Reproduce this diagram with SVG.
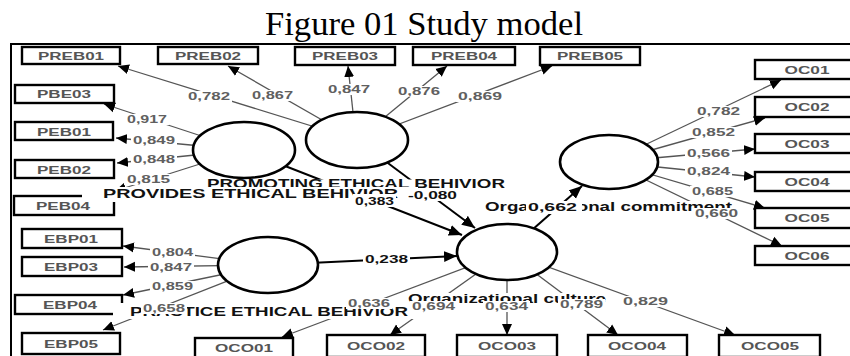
<svg xmlns="http://www.w3.org/2000/svg" width="850" height="356" viewBox="0 0 850 356">
<defs>
<marker id="ah" markerUnits="userSpaceOnUse" markerWidth="13" markerHeight="11" refX="11" refY="5.5" orient="auto"><path d="M0,0.5 L11,5.5 L0,10.5 z" fill="#000"/></marker>
<marker id="ahb" markerUnits="userSpaceOnUse" markerWidth="14" markerHeight="12" refX="13" refY="6" orient="auto"><path d="M0,0.5 L13,6 L0,11.5 z" fill="#000"/></marker>
</defs>
<style>
text{font-family:"Liberation Sans",Arial,sans-serif}
.title{font-family:"Liberation Serif","Times New Roman",serif;font-size:34px;fill:#000}
.box rect{fill:#fff;stroke:#000;stroke-width:2.4}
.box text{font-size:11px;font-weight:bold;fill:#555}
.box text{text-anchor:middle}
.lv ellipse{fill:#fff;stroke:#000;stroke-width:2.6}
.lv text{font-size:12px;font-weight:bold;fill:#111}
.bg{fill:#fff}
.ld{stroke:#555;stroke-width:1.3;fill:none;marker-end:url(#ah)}
.st{stroke:#000;stroke-width:2;fill:none;marker-end:url(#ahb)}
.n text{font-size:11px;font-weight:bold;fill:#606060}
.n.s text{fill:#111}
</style>
<rect width="850" height="356" fill="#fff"/>
<text class="title" x="265" y="35" textLength="318" lengthAdjust="spacingAndGlyphs">Figure 01 Study model</text>
<g id="frame" stroke="#000" stroke-width="2">
<line x1="10" y1="44" x2="850" y2="44"/>
<line x1="11" y1="43" x2="11" y2="356"/>
</g>
<g id="connectors">
<line class="ld" x1="357" y1="140" x2="118" y2="66"/>
<line class="ld" x1="357" y1="140" x2="228" y2="66"/>
<line class="ld" x1="356" y1="140" x2="348" y2="66"/>
<line class="ld" x1="357" y1="140" x2="447" y2="66"/>
<line class="ld" x1="357" y1="140" x2="552" y2="66"/>
<line class="ld" x1="244" y1="150" x2="104" y2="104"/>
<line class="ld" x1="244" y1="150" x2="116" y2="138"/>
<line class="ld" x1="244" y1="150" x2="117" y2="163"/>
<line class="ld" x1="244" y1="150" x2="115" y2="191"/>
<line class="ld" x1="268" y1="265" x2="123" y2="246"/>
<line class="ld" x1="268" y1="265" x2="124" y2="267"/>
<line class="ld" x1="268" y1="265" x2="123" y2="295"/>
<line class="ld" x1="268" y1="265" x2="103" y2="330"/>
<line class="ld" x1="507" y1="252" x2="282" y2="337"/>
<line class="ld" x1="507" y1="252" x2="390" y2="335"/>
<line class="ld" x1="507" y1="252" x2="507" y2="335"/>
<line class="ld" x1="507" y1="252" x2="618" y2="335"/>
<line class="ld" x1="507" y1="252" x2="735" y2="335"/>
<line class="ld" x1="609" y1="162" x2="781" y2="80"/>
<line class="ld" x1="609" y1="162" x2="765" y2="118"/>
<line class="ld" x1="609" y1="162" x2="755" y2="149"/>
<line class="ld" x1="609" y1="162" x2="755" y2="177"/>
<line class="ld" x1="609" y1="162" x2="765" y2="208"/>
<line class="ld" x1="609" y1="162" x2="782" y2="246"/>
<line class="st" x1="244" y1="150" x2="462" y2="235"/>
<line class="st" x1="357" y1="140" x2="475" y2="228"/>
<line class="st" x1="268" y1="265" x2="457" y2="256"/>
<line class="st" x1="507" y1="252" x2="582" y2="186"/>
</g>
<g id="PREB01" class="box"><rect x="22" y="47" width="98" height="17"/><text x="71" y="60" textLength="66" lengthAdjust="spacingAndGlyphs">PREB01</text></g>
<g id="PREB02" class="box"><rect x="158" y="47" width="100" height="17"/><text x="208" y="60" textLength="66" lengthAdjust="spacingAndGlyphs">PREB02</text></g>
<g id="PREB03" class="box"><rect x="295" y="47" width="100" height="18"/><text x="345" y="60" textLength="66" lengthAdjust="spacingAndGlyphs">PREB03</text></g>
<g id="PREB04" class="box"><rect x="413" y="47" width="102" height="18"/><text x="464" y="60" textLength="66" lengthAdjust="spacingAndGlyphs">PREB04</text></g>
<g id="PREB05" class="box"><rect x="540" y="47" width="100" height="18"/><text x="590" y="60" textLength="66" lengthAdjust="spacingAndGlyphs">PREB05</text></g>
<g id="PBE03" class="box"><rect x="15" y="85" width="99" height="18"/><text x="64" y="98" textLength="54" lengthAdjust="spacingAndGlyphs">PBE03</text></g>
<g id="PEB01" class="box"><rect x="15" y="122" width="98" height="18"/><text x="64" y="136" textLength="54" lengthAdjust="spacingAndGlyphs">PEB01</text></g>
<g id="PEB02" class="box"><rect x="15" y="160" width="99" height="18"/><text x="64" y="174" textLength="54" lengthAdjust="spacingAndGlyphs">PEB02</text></g>
<g id="PEB04" class="box"><rect x="14" y="196" width="100" height="19"/><text x="63" y="210" textLength="54" lengthAdjust="spacingAndGlyphs">PEB04</text></g>
<g id="EBP01" class="box"><rect x="22" y="229" width="100" height="19"/><text x="71" y="243" textLength="54" lengthAdjust="spacingAndGlyphs">EBP01</text></g>
<g id="EBP03" class="box"><rect x="22" y="257" width="100" height="19"/><text x="71" y="271" textLength="54" lengthAdjust="spacingAndGlyphs">EBP03</text></g>
<g id="EBP04" class="box"><rect x="15" y="295" width="107" height="19"/><text x="70" y="309" textLength="54" lengthAdjust="spacingAndGlyphs">EBP04</text></g>
<g id="EBP05" class="box"><rect x="22" y="333" width="98" height="21"/><text x="71" y="348" textLength="54" lengthAdjust="spacingAndGlyphs">EBP05</text></g>
<g id="OCO01" class="box"><rect x="195" y="338" width="98" height="21"/><text x="244" y="352" textLength="58" lengthAdjust="spacingAndGlyphs">OCO01</text></g>
<g id="OCO02" class="box"><rect x="327" y="335" width="98" height="22"/><text x="376" y="350" textLength="58" lengthAdjust="spacingAndGlyphs">OCO02</text></g>
<g id="OCO03" class="box"><rect x="457" y="335" width="100" height="22"/><text x="507" y="350" textLength="58" lengthAdjust="spacingAndGlyphs">OCO03</text></g>
<g id="OCO04" class="box"><rect x="588" y="335" width="99" height="22"/><text x="637" y="350" textLength="58" lengthAdjust="spacingAndGlyphs">OCO04</text></g>
<g id="OCO05" class="box"><rect x="719" y="335" width="101" height="22"/><text x="770" y="350" textLength="58" lengthAdjust="spacingAndGlyphs">OCO05</text></g>
<g id="OC01" class="box"><rect x="755" y="60" width="105" height="19"/><text x="807" y="74" textLength="45" lengthAdjust="spacingAndGlyphs">OC01</text></g>
<g id="OC02" class="box"><rect x="755" y="97" width="105" height="20"/><text x="807" y="111" textLength="45" lengthAdjust="spacingAndGlyphs">OC02</text></g>
<g id="OC03" class="box"><rect x="755" y="134" width="105" height="19"/><text x="807" y="148" textLength="45" lengthAdjust="spacingAndGlyphs">OC03</text></g>
<g id="OC04" class="box"><rect x="755" y="172" width="105" height="19"/><text x="807" y="186" textLength="45" lengthAdjust="spacingAndGlyphs">OC04</text></g>
<g id="OC05" class="box"><rect x="755" y="208" width="105" height="20"/><text x="807" y="222" textLength="45" lengthAdjust="spacingAndGlyphs">OC05</text></g>
<g id="OC06" class="box"><rect x="755" y="246" width="105" height="19"/><text x="807" y="260" textLength="45" lengthAdjust="spacingAndGlyphs">OC06</text></g>
<g id="PROMOTING" class="lv"><ellipse cx="357" cy="140" rx="51" ry="28"/><rect class="bg" x="200" y="179.5" width="312" height="11"/><text x="207" y="188" textLength="298" lengthAdjust="spacingAndGlyphs">PROMOTING ETHICAL BEHIVIOR</text></g>
<g id="PROVIDES" class="lv"><ellipse cx="244" cy="150" rx="51" ry="28"/><rect class="bg" x="82" y="187" width="336" height="15"/><text x="103" y="198" textLength="295" lengthAdjust="spacingAndGlyphs">PROVIDES ETHICAL BEHIVIOR</text></g>
<g id="PRACTICE" class="lv"><ellipse cx="268" cy="265" rx="50" ry="28"/><rect class="bg" x="113" y="303" width="310" height="16"/><text x="130" y="316" textLength="278" lengthAdjust="spacingAndGlyphs">PRACTICE ETHICAL BEHIVIOR</text></g>
<g id="CULTURE" class="lv"><ellipse cx="507" cy="252" rx="50" ry="28"/><rect class="bg" x="404" y="293" width="208" height="12"/><text x="408" y="303" textLength="198" lengthAdjust="spacingAndGlyphs">Organizational culture</text></g>
<g id="COMMITMENT" class="lv"><ellipse cx="609" cy="162" rx="49" ry="27"/><rect class="bg" x="481" y="201" width="256" height="13"/><text x="485" y="211" textLength="247" lengthAdjust="spacingAndGlyphs">Organizational commitment</text></g>
<g id="connector-labels">
<g class="n"><rect class="bg" x="186" y="91" width="46" height="11"/><text x="188" y="100" textLength="42" lengthAdjust="spacingAndGlyphs">0,782</text></g>
<g class="n"><rect class="bg" x="250" y="90" width="45" height="11"/><text x="252" y="99" textLength="41" lengthAdjust="spacingAndGlyphs">0,867</text></g>
<g class="n"><rect class="bg" x="326" y="84" width="46" height="11"/><text x="328" y="93" textLength="42" lengthAdjust="spacingAndGlyphs">0,847</text></g>
<g class="n"><rect class="bg" x="396" y="86" width="46" height="11"/><text x="398" y="95" textLength="42" lengthAdjust="spacingAndGlyphs">0,876</text></g>
<g class="n"><rect class="bg" x="456" y="91" width="48" height="11"/><text x="458" y="100" textLength="44" lengthAdjust="spacingAndGlyphs">0,869</text></g>
<g class="n"><rect class="bg" x="125" y="114" width="44" height="11"/><text x="127" y="123" textLength="40" lengthAdjust="spacingAndGlyphs">0,917</text></g>
<g class="n"><rect class="bg" x="131" y="135" width="46" height="11"/><text x="133" y="144" textLength="42" lengthAdjust="spacingAndGlyphs">0,849</text></g>
<g class="n"><rect class="bg" x="131" y="154" width="46" height="11"/><text x="133" y="163" textLength="42" lengthAdjust="spacingAndGlyphs">0,848</text></g>
<g class="n"><rect class="bg" x="125" y="174" width="47" height="11"/><text x="127" y="183" textLength="43" lengthAdjust="spacingAndGlyphs">0,815</text></g>
<g class="n"><rect class="bg" x="150" y="247" width="45" height="11"/><text x="152" y="256" textLength="41" lengthAdjust="spacingAndGlyphs">0,804</text></g>
<g class="n"><rect class="bg" x="148" y="262" width="46" height="11"/><text x="150" y="271" textLength="42" lengthAdjust="spacingAndGlyphs">0,847</text></g>
<g class="n"><rect class="bg" x="150" y="281" width="45" height="11"/><text x="152" y="290" textLength="41" lengthAdjust="spacingAndGlyphs">0,859</text></g>
<g class="n"><rect class="bg" x="141" y="303" width="46" height="11"/><text x="143" y="312" textLength="42" lengthAdjust="spacingAndGlyphs">0,658</text></g>
<g class="n"><rect class="bg" x="346" y="298" width="46" height="11"/><text x="348" y="307" textLength="42" lengthAdjust="spacingAndGlyphs">0,636</text></g>
<g class="n"><rect class="bg" x="410" y="301" width="47" height="11"/><text x="412" y="310" textLength="43" lengthAdjust="spacingAndGlyphs">0,694</text></g>
<g class="n"><rect class="bg" x="483" y="301" width="47" height="11"/><text x="485" y="310" textLength="43" lengthAdjust="spacingAndGlyphs">0,634</text></g>
<g class="n"><rect class="bg" x="558" y="299" width="47" height="11"/><text x="560" y="308" textLength="43" lengthAdjust="spacingAndGlyphs">0,789</text></g>
<g class="n"><rect class="bg" x="621" y="296" width="49" height="11"/><text x="623" y="305" textLength="45" lengthAdjust="spacingAndGlyphs">0,829</text></g>
<g class="n"><rect class="bg" x="695" y="106" width="47" height="11"/><text x="697" y="115" textLength="43" lengthAdjust="spacingAndGlyphs">0,782</text></g>
<g class="n"><rect class="bg" x="690" y="127" width="47" height="11"/><text x="692" y="136" textLength="43" lengthAdjust="spacingAndGlyphs">0,852</text></g>
<g class="n"><rect class="bg" x="685" y="148" width="47" height="11"/><text x="687" y="157" textLength="43" lengthAdjust="spacingAndGlyphs">0,566</text></g>
<g class="n"><rect class="bg" x="685" y="166" width="47" height="11"/><text x="687" y="175" textLength="43" lengthAdjust="spacingAndGlyphs">0,824</text></g>
<g class="n"><rect class="bg" x="690" y="186" width="45" height="11"/><text x="692" y="195" textLength="41" lengthAdjust="spacingAndGlyphs">0,685</text></g>
<g class="n"><rect class="bg" x="693" y="208" width="47" height="11"/><text x="695" y="217" textLength="43" lengthAdjust="spacingAndGlyphs">0,660</text></g>
<g class="n s"><rect class="bg" x="353" y="194" width="43" height="13"/><text x="355" y="205" textLength="39" lengthAdjust="spacingAndGlyphs">0,383</text></g>
<g class="n s"><rect class="bg" x="406" y="189" width="53" height="12"/><text x="408" y="199" textLength="49" lengthAdjust="spacingAndGlyphs">-0,080</text></g>
<g class="n s"><rect class="bg" x="363" y="254" width="47" height="11"/><text x="365" y="263" textLength="43" lengthAdjust="spacingAndGlyphs">0,238</text></g>
<g class="n s"><rect class="bg" x="526" y="201" width="56" height="12"/><text x="528" y="211" textLength="49" lengthAdjust="spacingAndGlyphs">0,662</text></g>
</g>
</svg>
